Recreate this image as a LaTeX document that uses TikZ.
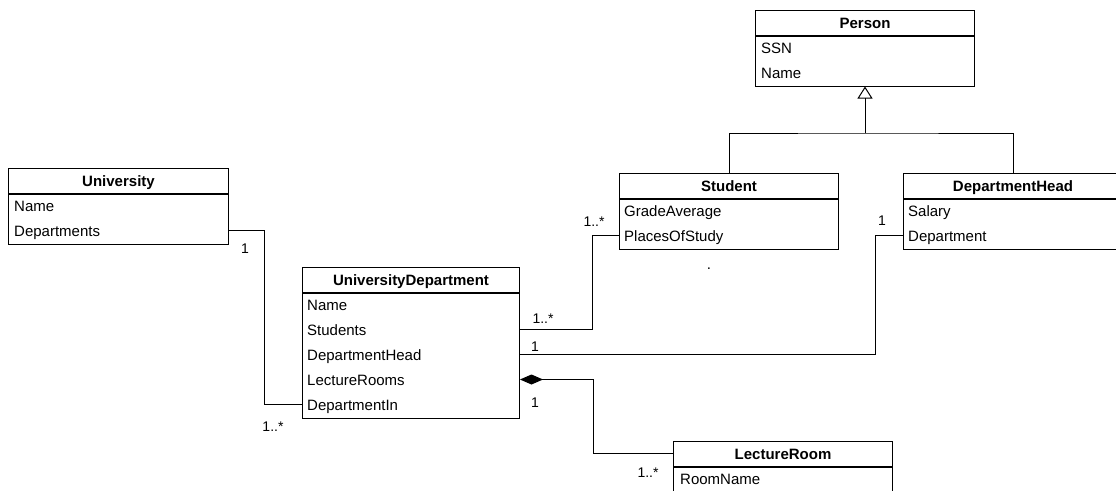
\documentclass[tikz,border=0pt]{standalone}
\usepackage{fontspec}
\setmainfont{Liberation Sans}
\usepackage{tikz}
\usetikzlibrary{positioning,arrows.meta,calc}

\tikzset{
  classname/.style={draw=black, line width=1pt, minimum width=219pt,
    minimum height=24.5pt, inner sep=0pt, anchor=north west,
    text height=11pt, text depth=0pt,
    font=\fontsize{15}{18}\selectfont\bfseries},
  classbody/.style={draw=black, line width=1pt, minimum width=219pt,
    inner sep=0pt, anchor=north},
  attr/.style={anchor=west, inner sep=0pt, text height=11pt, text depth=0pt,
    font=\fontsize{15}{18}\selectfont},
  mult/.style={inner sep=0pt, text height=10pt, text depth=0pt,
    font=\fontsize{14}{17}\selectfont},
  assoc/.style={draw=black, line width=1pt}
}

\begin{document}
\begin{tikzpicture}[x=1pt, y=-1pt]
  \useasboundingbox (0,0) rectangle (1116,490);

  % Classe University
  \node[classname, minimum width=220pt] (univ) at (8,168) {University};
  \node[classbody, minimum width=220pt, minimum height=50pt] (univ-body)
    at (univ.south) {};
  \node[attr] (univ-name) at ([xshift=6pt,yshift=-12pt]univ-body.north west) {Name};
  \node[attr] (univ-depts) at ([yshift=-25pt]univ-name.west) {Departments};

  % Classe UniversityDepartment
  \node[classname, minimum width=217pt] (ud) at (302,267) {UniversityDepartment};
  \node[classbody, minimum width=217pt, minimum height=125pt] (ud-body)
    at (ud.south) {};
  \node[attr] (ud-name) at ([xshift=5pt,yshift=-12pt]ud-body.north west) {Name};
  \node[attr] (ud-students) at ([yshift=-25pt]ud-name.west) {Students};
  \node[attr] (ud-head) at ([yshift=-25pt]ud-students.west) {DepartmentHead};
  \node[attr] (ud-rooms) at ([yshift=-25pt]ud-head.west) {LectureRooms};
  \node[attr] (ud-deptin) at ([yshift=-25pt]ud-rooms.west) {DepartmentIn};

  % Classe Person
  \node[classname] (person) at (755,10) {Person};
  \node[classbody, minimum height=50pt] (person-body) at (person.south) {};
  \node[attr] (person-ssn) at ([xshift=6pt,yshift=-12pt]person-body.north west) {SSN};
  \node[attr] (person-name) at ([yshift=-25pt]person-ssn.west) {Name};

  % Classe Student
  \node[classname] (student) at (619,173) {Student};
  \node[classbody, minimum height=50pt] (student-body) at (student.south) {};
  \node[attr] (student-grade) at ([xshift=5pt,yshift=-12pt]student-body.north west) {GradeAverage};
  \node[attr] (student-places) at ([yshift=-25pt]student-grade.west) {PlacesOfStudy};
  \node[attr, anchor=base] (student-dot) at ([xshift=-20pt,yshift=-20pt]student-body.south) {.};

  % Classe DepartmentHead
  \node[classname] (dhead) at (903,173) {DepartmentHead};
  \node[classbody, minimum height=50pt] (dhead-body) at (dhead.south) {};
  \node[attr] (dhead-salary) at ([xshift=5pt,yshift=-12pt]dhead-body.north west) {Salary};
  \node[attr] (dhead-dept) at ([yshift=-25pt]dhead-salary.west) {Department};

  % Classe LectureRoom
  \node[classname] (room) at (673,441) {LectureRoom};
  \node[classbody, minimum height=50pt] (room-body) at (room.south) {};
  \node[attr] (room-name) at ([xshift=7pt,yshift=-12pt]room-body.north west) {RoomName};

  % Héritage vers Person
  \coordinate (gen) at ([yshift=40pt]student.north -| person-body.south);
  \draw[assoc] (student.north) |- (gen) -| (dhead.north);
  \draw[assoc, -{Triangle[open, length=12pt, width=15pt]}] (gen) -- (person-body.south);

  % Associations
  \draw[assoc] (univ-body.east |- univ-depts) -- ++(35,0) |- (ud-body.west |- ud-deptin);
  \draw[assoc] (ud-body.east |- ud-students) -- ++(72,0) |- (student-body.west |- student-places);
  \draw[assoc] (ud-body.east |- ud-head) -- ++(355,0) |- (dhead-body.west |- dhead-dept);
  \draw[assoc, {Diamond[length=23pt, width=10pt]}-] (ud-body.east |- ud-rooms) -- ++(73,0) |- (room.west);

  % Multiplicités
  \node[mult] (m-univ) at ($(univ-body.east |- univ-depts)+(16,18)$) {1};
  \node[mult] (m-deptin) at ($(ud-body.west |- ud-deptin)+(-29,22)$) {1..*};
  \node[mult] (m-students) at ($(ud-body.east |- ud-students)+(23,-11)$) {1..*};
  \node[mult] (m-places) at ($(student-body.west |- student-places)+(-25,-14)$) {1..*};
  \node[mult] (m-head) at ($(ud-body.east |- ud-head)+(15,-8)$) {1};
  \node[mult] (m-dept) at ($(dhead-body.west |- dhead-dept)+(-21,-15)$) {1};
  \node[mult] (m-rooms) at ($(ud-body.east |- ud-rooms)+(15,23)$) {1};
  \node[mult] (m-room) at ($(room.west)+(-25,19)$) {1..*};
\end{tikzpicture}
\end{document}
